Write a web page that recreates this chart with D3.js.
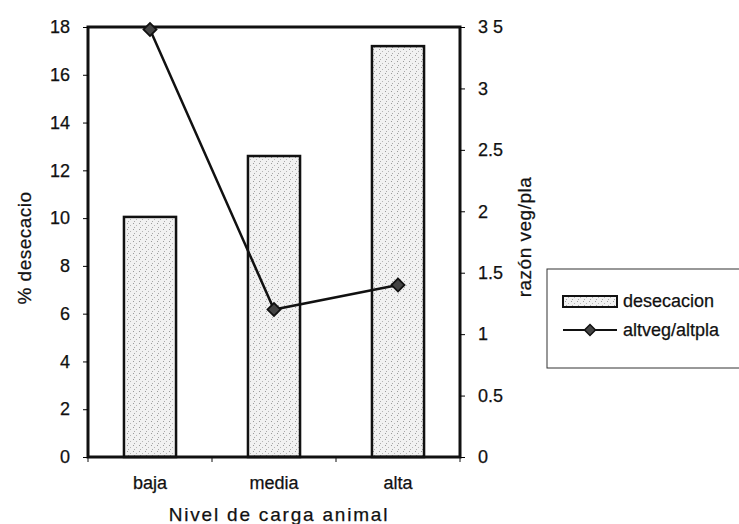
<!DOCTYPE html>
<html lang="es">
<head>
<meta charset="UTF-8"/>
<title>desecacion vs altveg/altpla</title>
<script src="https://d3js.org/d3.v7.min.js"></script>
<style>
	body { margin: 0; background: #fff; }
	text { font-family: "Liberation Sans", Arial, sans-serif; fill: #111; stroke: #111; stroke-width: 0.25px; }
</style>
</head>
<body>
<script>
	var categories = ["baja", "media", "alta"];
	var desecacion = [10.05, 12.6, 17.2];
	var razon = [3.48, 1.2, 1.4];
	var leftTicks = [0, 2, 4, 6, 8, 10, 12, 14, 16, 18];
	var rightTicks = [0, 0.5, 1, 1.5, 2, 2.5, 3, 3.5];
	var rightLabels = ["0", "0.5", "1", "1.5", "2", "2.5", "3", "3 5"];

	var w = 739, h = 524;
	var plotLeft = 88, plotRight = 460, plotTop = 27, plotBottom = 457;

	var svg = d3.select("body").append("svg").attr("width", w).attr("height", h);

	// stipple pattern for the bars
	var pat = svg.append("defs").append("pattern")
		.attr("id", "stip").attr("width", 6).attr("height", 6)
		.attr("patternUnits", "userSpaceOnUse");
	pat.append("rect").attr("width", 6).attr("height", 6).attr("fill", "#f1f1f1");
	pat.append("rect").attr("x", 1).attr("y", 1).attr("width", 1).attr("height", 1).attr("fill", "#9a9a9a");
	pat.append("rect").attr("x", 4).attr("y", 3).attr("width", 1).attr("height", 1).attr("fill", "#b5b5b5");
	pat.append("rect").attr("x", 2).attr("y", 5).attr("width", 1).attr("height", 1).attr("fill", "#a8a8a8");

	var xScale = d3.scaleBand()
		.domain(categories)
		.range([plotLeft, plotRight])
		.paddingInner(0.58)
		.paddingOuter(0.29);

	var yLeft = d3.scaleLinear().domain([0, 18]).range([plotBottom, plotTop]);
	var yRight = d3.scaleLinear().domain([0, 3.5]).range([plotBottom, plotTop]);

	// bars
	svg.selectAll(".bar").data(desecacion).enter().append("rect")
		.attr("class", "bar")
		.attr("x", function(d, i) { return xScale(categories[i]); })
		.attr("y", function(d) { return yLeft(d); })
		.attr("width", xScale.bandwidth())
		.attr("height", function(d) { return plotBottom - yLeft(d); })
		.attr("fill", "url(#stip)")
		.attr("stroke", "#111")
		.attr("stroke-width", 2.5);

	// frame
	svg.append("rect")
		.attr("x", plotLeft).attr("y", plotTop)
		.attr("width", plotRight - plotLeft).attr("height", plotBottom - plotTop)
		.attr("fill", "none").attr("stroke", "#111").attr("stroke-width", 3);

	// left axis
	var gl = svg.append("g").attr("transform", "translate(" + plotLeft + ",0)")
		.call(d3.axisLeft(yLeft).tickValues(leftTicks).tickSize(5).tickPadding(13));
	gl.select(".domain").remove();
	gl.selectAll("text").style("font-size", "18px").attr("font-family", null);

	// right axis
	var gr = svg.append("g").attr("transform", "translate(" + plotRight + ",0)")
		.call(d3.axisRight(yRight).tickValues(rightTicks).tickSize(5).tickPadding(13)
			.tickFormat(function(d, i) { return rightLabels[i]; }));
	gr.select(".domain").remove();
	gr.selectAll("text").style("font-size", "18px").attr("font-family", null);

	// bottom axis
	var xTicks = d3.scaleLinear().domain([0, 3]).range([plotLeft, plotRight]);
	svg.selectAll(".xtick").data([0, 1, 2, 3]).enter().append("line")
		.attr("x1", function(d) { return xTicks(d); })
		.attr("x2", function(d) { return xTicks(d); })
		.attr("y1", plotBottom).attr("y2", plotBottom + 5)
		.attr("stroke", "#111").attr("stroke-width", 1);
	svg.selectAll(".xlab").data(categories).enter().append("text")
		.attr("x", function(d) { return xScale(d) + xScale.bandwidth() / 2; })
		.attr("y", 489)
		.attr("text-anchor", "middle")
		.style("font-size", "18px")
		.text(function(d) { return d; });

	// line series
	var line = d3.line()
		.x(function(d, i) { return xScale(categories[i]) + xScale.bandwidth() / 2; })
		.y(function(d) { return yRight(d); });
	svg.append("path").datum(razon)
		.attr("d", line)
		.attr("fill", "none").attr("stroke", "#111").attr("stroke-width", 2.5);
	var diamond = d3.symbol().type(d3.symbolSquare).size(85);
	svg.selectAll(".pt").data(razon).enter().append("path")
		.attr("d", diamond)
		.attr("transform", function(d, i) {
			return "translate(" + (xScale(categories[i]) + xScale.bandwidth() / 2) + "," + yRight(d) + ") rotate(45)";
		})
		.attr("fill", "#444").attr("stroke", "#111").attr("stroke-width", 1.8);

	// axis titles
	svg.append("text")
		.attr("transform", "translate(31,248) rotate(-90)")
		.attr("text-anchor", "middle")
		.style("font-size", "19px").style("letter-spacing", "0.5px")
		.text("% desecacio");
	svg.append("text")
		.attr("transform", "translate(531,237) rotate(-90)")
		.attr("text-anchor", "middle")
		.style("font-size", "19px").style("letter-spacing", "0.5px")
		.text("razón veg/pla");
	svg.append("text")
		.attr("x", 279).attr("y", 521)
		.attr("text-anchor", "middle")
		.style("font-size", "19px").style("letter-spacing", "1.8px")
		.text("Nivel de carga animal");

	// legend
	var lg = svg.append("g");
	lg.append("rect")
		.attr("x", 547).attr("y", 269).attr("width", 200).attr("height", 99)
		.attr("fill", "#fff").attr("stroke", "#333").attr("stroke-width", 1);
	lg.append("rect")
		.attr("x", 563).attr("y", 296).attr("width", 54).attr("height", 11)
		.attr("fill", "url(#stip)").attr("stroke", "#111").attr("stroke-width", 2);
	lg.append("text").attr("x", 623).attr("y", 307).style("font-size", "18px").text("desecacion");
	lg.append("line")
		.attr("x1", 563).attr("x2", 617).attr("y1", 330).attr("y2", 330)
		.attr("stroke", "#111").attr("stroke-width", 2);
	lg.append("path").attr("d", d3.symbol().type(d3.symbolSquare).size(60))
		.attr("transform", "translate(590,330) rotate(45)")
		.attr("fill", "#444").attr("stroke", "#111").attr("stroke-width", 1.5);
	lg.append("text").attr("x", 623).attr("y", 336).style("font-size", "18px").text("altveg/altpla");
</script>
</body>
</html>
